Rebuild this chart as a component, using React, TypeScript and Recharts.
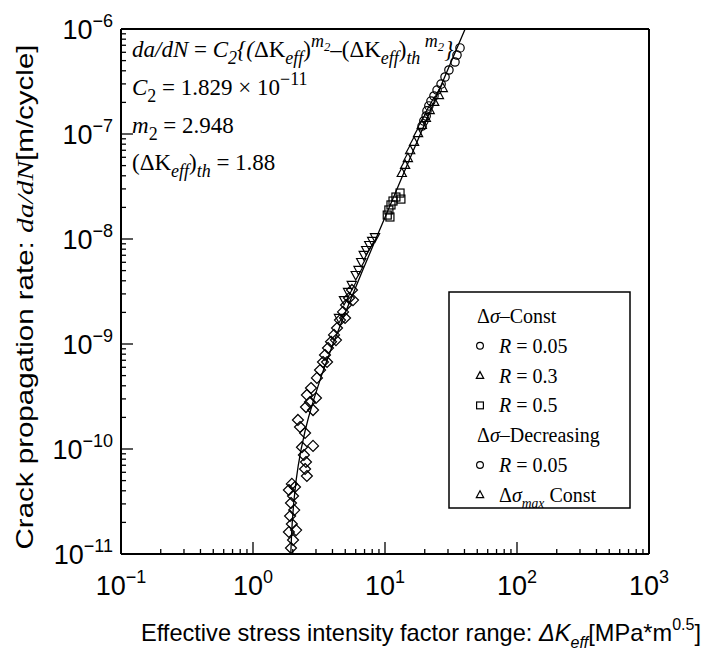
import { ScatterChart, Scatter, XAxis, YAxis, ReferenceLine } from 'recharts'

const SERIF = '"Liberation Serif", "Times New Roman", serif'
const SANS = '"Liberation Sans Narrow", "Liberation Sans", Arial, sans-serif'

// decades shown on the axes
const X_DECADES = [0.1, 1, 10, 100, 1000]
const Y_DECADES = [1e-11, 1e-10, 1e-9, 1e-8, 1e-7, 1e-6]
const MINOR_STEPS = [2, 3, 4, 5, 6, 7, 8, 9]

// Δσ-Const, R = 0.05
const constR005 = [
  { dk: 19.1, rate: 1.19e-7 },
  { dk: 19.7, rate: 1.33e-7 },
  { dk: 20.5, rate: 1.48e-7 },
  { dk: 20.8, rate: 1.66e-7 },
  { dk: 21.5, rate: 1.85e-7 },
  { dk: 22.3, rate: 2.06e-7 },
  { dk: 23.5, rate: 2.3e-7 },
  { dk: 24.8, rate: 2.62e-7 },
  { dk: 26.6, rate: 2.99e-7 },
  { dk: 28.5, rate: 3.49e-7 },
  { dk: 30.5, rate: 4.07e-7 },
  { dk: 33.9, rate: 4.85e-7 },
  { dk: 35.1, rate: 5.65e-7 },
  { dk: 37.0, rate: 6.6e-7 },
]

// Δσ-Const, R = 0.3
const constR03 = [
  { dk: 13.4, rate: 4.25e-8 },
  { dk: 14.2, rate: 5.07e-8 },
  { dk: 14.9, rate: 5.9e-8 },
  { dk: 15.5, rate: 7.0e-8 },
  { dk: 16.6, rate: 8.4e-8 },
  { dk: 17.8, rate: 1.02e-7 },
  { dk: 19.0, rate: 1.22e-7 },
  { dk: 20.4, rate: 1.42e-7 },
  { dk: 21.8, rate: 1.69e-7 },
  { dk: 23.6, rate: 2.02e-7 },
  { dk: 25.6, rate: 2.35e-7 },
  { dk: 27.4, rate: 2.74e-7 },
]

// Δσ-Const, R = 0.5
const constR05 = [
  { dk: 10.4, rate: 1.69e-8 },
  { dk: 10.9, rate: 1.62e-8 },
  { dk: 10.7, rate: 1.89e-8 },
  { dk: 11.1, rate: 2.11e-8 },
  { dk: 11.5, rate: 2.3e-8 },
  { dk: 12.1, rate: 2.51e-8 },
  { dk: 13.0, rate: 2.74e-8 },
  { dk: 13.2, rate: 2.4e-8 },
]

// Δσ-Decreasing, R = 0.05
const decR005 = [
  { dk: 1.94, rate: 1.14e-11 },
  { dk: 2.01, rate: 1.36e-11 },
  { dk: 1.87, rate: 1.62e-11 },
  { dk: 2.12, rate: 1.69e-11 },
  { dk: 1.97, rate: 1.93e-11 },
  { dk: 1.91, rate: 2.3e-11 },
  { dk: 2.05, rate: 2.62e-11 },
  { dk: 1.94, rate: 3.06e-11 },
  { dk: 2.01, rate: 3.57e-11 },
  { dk: 1.87, rate: 4.07e-11 },
  { dk: 2.08, rate: 4.35e-11 },
  { dk: 1.97, rate: 4.65e-11 },
  { dk: 2.56, rate: 5.53e-11 },
  { dk: 2.48, rate: 6.45e-11 },
  { dk: 2.52, rate: 7.52e-11 },
  { dk: 2.43, rate: 8.77e-11 },
  { dk: 2.35, rate: 1.04e-10 },
  { dk: 2.85, rate: 1.07e-10 },
  { dk: 2.48, rate: 1.42e-10 },
  { dk: 2.27, rate: 1.62e-10 },
  { dk: 2.19, rate: 1.89e-10 },
  { dk: 2.85, rate: 2.35e-10 },
  { dk: 2.52, rate: 2.51e-10 },
  { dk: 2.7, rate: 2.8e-10 },
  { dk: 3.0, rate: 3.06e-10 },
  { dk: 2.56, rate: 3.27e-10 },
  { dk: 2.75, rate: 3.81e-10 },
  { dk: 3.05, rate: 4.75e-10 },
  { dk: 3.22, rate: 5.65e-10 },
  { dk: 3.39, rate: 6.74e-10 },
  { dk: 3.64, rate: 6.74e-10 },
  { dk: 3.51, rate: 7.86e-10 },
  { dk: 3.7, rate: 9.16e-10 },
  { dk: 3.9, rate: 1.05e-9 },
  { dk: 4.25, rate: 1.09e-9 },
  { dk: 4.11, rate: 1.22e-9 },
  { dk: 4.33, rate: 1.42e-9 },
  { dk: 4.56, rate: 1.69e-9 },
  { dk: 4.98, rate: 1.77e-9 },
  { dk: 4.81, rate: 2.02e-9 },
  { dk: 5.07, rate: 2.35e-9 },
  { dk: 5.72, rate: 2.62e-9 },
  { dk: 5.34, rate: 2.74e-9 },
  { dk: 5.62, rate: 3.27e-9 },
]

// Δσmax Const
const maxConst = [
  { dk: 4.48, rate: 1.77e-9 },
  { dk: 4.89, rate: 2.62e-9 },
  { dk: 5.25, rate: 3.13e-9 },
  { dk: 5.6, rate: 3.65e-9 },
  { dk: 6.0, rate: 4.54e-9 },
  { dk: 6.3, rate: 5.07e-9 },
  { dk: 6.6, rate: 6.04e-9 },
  { dk: 6.9, rate: 7.05e-9 },
  { dk: 7.2, rate: 7.86e-9 },
  { dk: 7.6, rate: 8.77e-9 },
  { dk: 8.0, rate: 9.58e-9 },
  { dk: 8.4, rate: 1.04e-8 },
]

// fitted curve
const fitCurve = [
  { dk: 1.933, rate: 1e-11 },
  { dk: 1.958, rate: 1.5e-11 },
  { dk: 1.983, rate: 2e-11 },
  { dk: 2.031, rate: 3e-11 },
  { dk: 2.12, rate: 5e-11 },
  { dk: 2.203, rate: 7e-11 },
  { dk: 2.317, rate: 1e-10 },
  { dk: 2.485, rate: 1.5e-10 },
  { dk: 2.634, rate: 2e-10 },
  { dk: 2.896, rate: 3e-10 },
  { dk: 3.3, rate: 5e-10 },
  { dk: 4.036, rate: 1e-9 },
  { dk: 5.012, rate: 2e-9 },
  { dk: 6.761, rate: 5e-9 },
  { dk: 8.519, rate: 1e-8 },
  { dk: 10.756, rate: 2e-8 },
  { dk: 14.66, rate: 5e-8 },
  { dk: 18.54, rate: 1e-7 },
  { dk: 23.45, rate: 2e-7 },
  { dk: 32.0, rate: 5e-7 },
  { dk: 40.47, rate: 1e-6 },
]

const xTicks = X_DECADES.flatMap((d, i) =>
  i < X_DECADES.length - 1 ? [d, ...MINOR_STEPS.map((m) => d * m)] : [d]
)
const yTicks = Y_DECADES.flatMap((d, i) =>
  i < Y_DECADES.length - 1 ? [d, ...MINOR_STEPS.map((m) => d * m)] : [d]
)

const isMajor = (v: number) => Math.abs(Math.log10(v) - Math.round(Math.log10(v))) < 1e-6
const expText = (v: number) => {
  const e = Math.round(Math.log10(v))
  return e < 0 ? '\u2212' + -e : String(e)
}

function XTick({ x, y, payload }: any) {
  const major = isMajor(payload.value)
  return (
    <g>
      <line x1={x} x2={x} y1={y} y2={y - (major ? 12 : 5)} stroke="#000" strokeWidth={1.3} />
      {major && (
        <text x={x} y={y + 41} textAnchor="middle" fontFamily={SANS} fontSize={27} fill="#000">
          10<tspan dy={-12} fontSize={18}>{expText(payload.value)}</tspan>
        </text>
      )}
    </g>
  )
}

function YTick({ x, y, payload }: any) {
  const major = isMajor(payload.value)
  return (
    <g>
      <line x1={x} x2={x + (major ? 12 : 5)} y1={y} y2={y} stroke="#000" strokeWidth={1.3} />
      {major && (
        <text x={x - 8} y={y + 10} textAnchor="end" fontFamily={SANS} fontSize={27} fill="#000">
          10<tspan dy={-12} fontSize={18}>{expText(payload.value)}</tspan>
        </text>
      )}
    </g>
  )
}

// marker shapes
const mk = { stroke: '#000', strokeWidth: 1.2, fill: 'none' }
const Circle = ({ cx, cy, r = 4.2 }: any) => <circle cx={cx} cy={cy} r={r} {...mk} />
const TriUp = ({ cx, cy, s = 1 }: any) => (
  <polygon points={`${cx},${cy - 5 * s} ${cx - 4.6 * s},${cy + 3.5 * s} ${cx + 4.6 * s},${cy + 3.5 * s}`} {...mk} />
)
const TriDown = ({ cx, cy }: any) => (
  <polygon points={`${cx},${cy + 5} ${cx - 4.6},${cy - 3.5} ${cx + 4.6},${cy - 3.5}`} {...mk} />
)
const Square = ({ cx, cy, h = 4 }: any) => <rect x={cx - h} y={cy - h} width={2 * h} height={2 * h} {...mk} />
const Diamond = ({ cx, cy }: any) => (
  <polygon points={`${cx},${cy - 5.5} ${cx + 5.5},${cy} ${cx},${cy + 5.5} ${cx - 5.5},${cy}`} {...mk} />
)
const NoMark = () => <g />

type Seg = { t: string; pos?: 'sub' | 'sup' | 'supsub'; it?: boolean; serif?: boolean }

function Rich({ x, y, size, family, segs, anchor, transform, textLength, small = 0.68 }: any) {
  let cur = 0
  return (
    <text
      x={x}
      y={y}
      fontSize={size}
      fontFamily={family}
      textAnchor={anchor}
      transform={transform}
      textLength={textLength}
      lengthAdjust={textLength ? 'spacingAndGlyphs' : undefined}
      fill="#000"
      style={{ whiteSpace: 'pre' }}
    >
      {(segs as Seg[]).map((s, i) => {
        const off = s.pos === 'sub' ? 0.3 * size : s.pos === 'sup' ? -0.45 * size : s.pos === 'supsub' ? -0.25 * size : 0
        const dy = off - cur
        cur = off
        const fs = s.pos === 'supsub' ? size * 0.55 : s.pos ? size * small : size
        return (
          <tspan
            key={i}
            dy={dy || undefined}
            fontSize={fs}
            fontStyle={s.it ? 'italic' : undefined}
            fontFamily={s.serif ? SERIF : undefined}
          >
            {s.t}
          </tspan>
        )
      })}
    </text>
  )
}

const formula: Seg[][] = [
  [
    { t: 'da/dN', it: true }, { t: ' = ' }, { t: 'C', it: true }, { t: '2', pos: 'sub', it: true },
    { t: '{(', it: true }, { t: 'ΔK' }, { t: 'eff', pos: 'sub', it: true }, { t: ')' },
    { t: 'm', pos: 'sup', it: true }, { t: '2', pos: 'supsub', it: true }, { t: '–(' }, { t: 'ΔK' },
    { t: 'eff', pos: 'sub', it: true }, { t: ')' }, { t: 'th', pos: 'sub', it: true },
    { t: ' m', pos: 'sup', it: true }, { t: '2', pos: 'supsub', it: true }, { t: '}', it: true },
  ],
  [{ t: 'C', it: true }, { t: '2', pos: 'sub' }, { t: ' = 1.829 × 10' }, { t: '\u221211', pos: 'sup' }],
  [{ t: 'm', it: true }, { t: '2', pos: 'sub' }, { t: ' = 2.948' }],
  [{ t: '(ΔK' }, { t: 'eff', pos: 'sub', it: true }, { t: ')' }, { t: 'th', pos: 'sub', it: true }, { t: ' = 1.88' }],
]
const FORMULA_BASE = [57, 95, 133, 170]

const legendRows: { marker: any; segs: Seg[]; header?: boolean }[] = [
  { marker: null, header: true, segs: [{ t: 'Δ' }, { t: 'σ', it: true }, { t: '–Const' }] },
  { marker: Circle, segs: [{ t: 'R', it: true }, { t: ' = 0.05' }] },
  { marker: TriUp, segs: [{ t: 'R', it: true }, { t: ' = 0.3' }] },
  { marker: Square, segs: [{ t: 'R', it: true }, { t: ' = 0.5' }] },
  { marker: null, header: true, segs: [{ t: 'Δ' }, { t: 'σ', it: true }, { t: '–Decreasing' }] },
  { marker: Circle, segs: [{ t: 'R', it: true }, { t: ' = 0.05' }] },
  { marker: TriUp, segs: [{ t: 'Δ' }, { t: 'σ', it: true }, { t: 'max', pos: 'sub', it: true }, { t: ' Const' }] },
]

export default function App() {
  return (
    <div style={{ position: 'fixed', left: 0, top: 0, width: 705, height: 653, background: '#fff' }}>
      <ScatterChart width={705} height={653} margin={{ top: 29, right: 56, bottom: 59, left: 61 }}>
        <XAxis
          type="number"
          dataKey="dk"
          scale="log"
          domain={[0.1, 1000]}
          allowDataOverflow
          ticks={xTicks}
          interval={0}
          height={40}
          tickSize={0}
          tickMargin={0}
          tickLine={false}
          tick={<XTick />}
          axisLine={{ stroke: '#000', strokeWidth: 2 }}
        />
        <YAxis
          type="number"
          dataKey="rate"
          scale="log"
          domain={[1e-11, 1e-6]}
          allowDataOverflow
          ticks={yTicks}
          interval={0}
          width={60}
          tickSize={0}
          tickMargin={0}
          tickLine={false}
          tick={<YTick />}
          axisLine={{ stroke: '#000', strokeWidth: 2 }}
        />
        <ReferenceLine y={1e-6} stroke="#000" strokeWidth={2} />
        <ReferenceLine x={1000} stroke="#000" strokeWidth={2} />
        <Scatter
          data={fitCurve}
          shape={NoMark}
          line={{ stroke: '#000', strokeWidth: 1.3 }}
          isAnimationActive={false}
        />
        <Scatter data={decR005} shape={Diamond} isAnimationActive={false} />
        <Scatter data={maxConst} shape={TriDown} isAnimationActive={false} />
        <Scatter data={constR05} shape={Square} isAnimationActive={false} />
        <Scatter data={constR03} shape={TriUp} isAnimationActive={false} />
        <Scatter data={constR005} shape={Circle} isAnimationActive={false} />
      </ScatterChart>
      <svg width={705} height={653} style={{ position: 'absolute', left: 0, top: 0, pointerEvents: 'none' }}>
        {formula.map((segs, i) => (
          <Rich key={i} x={132} y={FORMULA_BASE[i]} size={23} small={0.78} family={SERIF} segs={segs} />
        ))}
        <rect x={449} y={292} width={181} height={216} fill="#fff" stroke="#000" strokeWidth={1.5} />
        {legendRows.map((row, i) => {
          const cy = 316 + i * 29.8
          const M = row.marker
          return (
            <g key={i}>
              {M && <M cx={480} cy={cy} r={3.4} s={0.8} h={3.4} />}
              <Rich x={row.header ? 477 : 499} y={cy + 7} size={20} family={SERIF} segs={row.segs} />
            </g>
          )
        })}
        <Rich
          x={421}
          y={641}
          size={24}
          family={SANS}
          anchor="middle"
          textLength={560}
          segs={[
            { t: 'Effective stress intensity factor range: ' },
            { t: 'ΔK', it: true },
            { t: 'eff', pos: 'sub', it: true },
            { t: '[MPa*m' },
            { t: '0.5', pos: 'sup' },
            { t: ']' },
          ]}
        />
        <Rich
          x={-297}
          y={33}
          size={24}
          family={SANS}
          anchor="middle"
          transform="rotate(-90)"
          textLength={505}
          segs={[
            { t: 'Crack propagation rate: ' },
            { t: 'da/dN', it: true, serif: true },
            { t: '[m/cycle]' },
          ]}
        />
      </svg>
    </div>
  )
}
